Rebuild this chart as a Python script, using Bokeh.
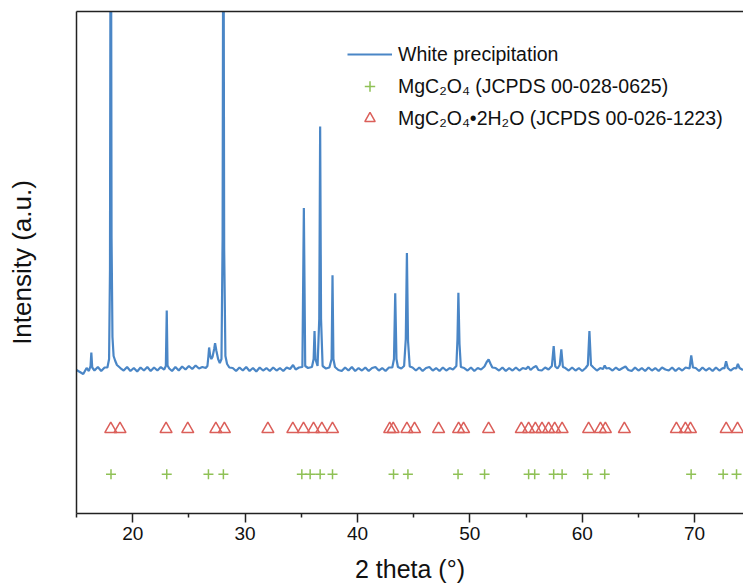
from bokeh.plotting import figure
from bokeh.models import Range1d, FixedTicker, LinearAxis, Legend, LegendItem
from bokeh.embed import file_html
from bokeh.resources import INLINE

# XRD trace of the white precipitate (2theta in degrees, intensity in a.u.)
pattern = [
    (15.0, 190), (15.3, 170), (15.6, 150), (15.9, 210), (16.1, 180), (16.25, 230),
    (16.32, 365), (16.4, 215), (16.6, 185), (16.9, 220), (17.2, 180), (17.5, 215),
    (17.75, 215), (17.9, 300), (17.98, 1200), (18.05, 6500), (18.12, 1500),
    (18.2, 520), (18.3, 330), (18.45, 280), (18.6, 240), (18.9, 210), (19.2, 185),
    (19.5, 220), (19.8, 180), (20.1, 210), (20.4, 175), (20.7, 215), (21.0, 185),
    (21.3, 220), (21.6, 180), (21.9, 215), (22.2, 185), (22.5, 220), (22.8, 195),
    (22.95, 230), (23.03, 785), (23.1, 235), (23.25, 205), (23.5, 180), (23.8, 220),
    (24.1, 185), (24.4, 225), (24.7, 195), (25.0, 230), (25.3, 200), (25.6, 235),
    (25.9, 205), (26.2, 220), (26.5, 210), (26.65, 230), (26.74, 330), (26.8, 415),
    (26.9, 330), (27.0, 300), (27.1, 320), (27.25, 400), (27.33, 458), (27.45, 380),
    (27.6, 300), (27.75, 260), (27.9, 300), (28.0, 1500), (28.07, 5800), (28.14, 1400),
    (28.25, 330), (28.4, 250), (28.6, 215), (28.9, 210), (29.2, 180), (29.5, 215),
    (29.8, 185), (30.1, 220), (30.4, 180), (30.7, 210), (31.0, 175), (31.3, 215),
    (31.6, 185), (31.9, 210), (32.2, 180), (32.5, 215), (32.8, 185), (33.1, 210),
    (33.4, 180), (33.7, 215), (34.0, 200), (34.27, 240), (34.5, 195), (34.8, 215),
    (35.1, 220), (35.23, 1808), (35.35, 230), (35.6, 210), (35.95, 220), (36.1, 300),
    (36.18, 580), (36.26, 300), (36.45, 230), (36.6, 700), (36.68, 2620), (36.76, 700),
    (36.9, 230), (37.2, 205), (37.5, 215), (37.7, 300), (37.78, 1135), (37.86, 300),
    (38.0, 220), (38.3, 190), (38.6, 180), (38.9, 215), (39.2, 185), (39.5, 220),
    (39.8, 180), (40.1, 210), (40.4, 185), (40.7, 215), (41.0, 180), (41.3, 210),
    (41.6, 220), (41.9, 185), (42.2, 210), (42.5, 180), (42.8, 215), (43.1, 215),
    (43.25, 300), (43.36, 955), (43.47, 300), (43.6, 220), (43.9, 205), (44.15, 230),
    (44.3, 500), (44.4, 1358), (44.5, 480), (44.65, 225), (44.9, 215), (45.2, 185),
    (45.5, 215), (45.8, 180), (46.1, 210), (46.4, 220), (46.7, 185), (47.0, 210),
    (47.3, 180), (47.6, 215), (47.9, 185), (48.2, 210), (48.5, 195), (48.8, 230),
    (48.9, 500), (48.98, 962), (49.08, 450), (49.2, 220), (49.5, 210), (49.8, 185),
    (50.1, 215), (50.4, 180), (50.7, 210), (51.0, 195), (51.3, 225), (51.5, 270),
    (51.67, 295), (51.85, 250), (52.0, 215), (52.3, 210), (52.6, 185), (52.9, 215),
    (53.2, 180), (53.5, 210), (53.8, 185), (54.1, 215), (54.4, 185), (54.7, 210),
    (55.0, 200), (55.2, 225), (55.4, 190), (55.65, 215), (55.9, 230), (56.1, 190),
    (56.4, 185), (56.7, 215), (57.0, 195), (57.3, 230), (57.46, 428), (57.6, 225),
    (57.8, 205), (58.0, 240), (58.14, 395), (58.28, 220), (58.5, 210), (58.8, 185),
    (59.1, 215), (59.4, 185), (59.7, 210), (60.0, 180), (60.3, 210), (60.5, 240),
    (60.64, 578), (60.78, 240), (61.0, 215), (61.3, 185), (61.6, 210), (61.85, 200),
    (62.0, 235), (62.15, 205), (62.4, 210), (62.7, 185), (63.0, 215), (63.3, 190),
    (63.6, 210), (63.85, 225), (64.1, 190), (64.4, 180), (64.7, 215), (65.0, 185),
    (65.3, 210), (65.6, 180), (65.9, 215), (66.2, 185), (66.5, 210), (66.8, 180),
    (67.1, 215), (67.4, 195), (67.7, 185), (68.0, 215), (68.3, 180), (68.6, 210),
    (68.9, 185), (69.2, 215), (69.55, 205), (69.7, 335), (69.85, 215), (70.1, 210),
    (70.4, 180), (70.7, 215), (71.0, 185), (71.3, 210), (71.6, 180), (71.9, 215),
    (72.2, 185), (72.5, 210), (72.65, 205), (72.8, 278), (72.95, 210), (73.2, 185),
    (73.5, 210), (73.7, 205), (73.85, 252), (74.0, 210), (74.3, 190),
]
two_theta = [p_[0] for p_ in pattern]
intensity = [p_[1] for p_ in pattern]

# Reference lines (2theta positions)
mgc2o4_2theta = [18.07, 23.03, 26.74, 28.07, 35.05, 35.79, 36.68, 37.78, 43.21,
                 44.49, 48.95, 51.31, 55.23, 55.77, 57.46, 58.21, 60.49, 62.0,
                 69.69, 72.54, 73.73]
dihydrate_2theta = [18.05, 18.87, 22.97, 24.90, 27.40, 28.16, 32.03, 34.25, 35.20,
                    36.09, 36.83, 37.78, 42.87, 43.18, 44.40, 45.08, 47.22, 49.00,
                    49.44, 51.67, 54.58, 55.23, 55.83, 56.42, 57.01, 57.55, 58.21,
                    60.57, 61.62, 62.06, 63.75, 68.38, 69.18, 69.63, 72.81, 73.82]
mgc2o4_level = -850
dihydrate_level = -400

x_major = [20, 30, 40, 50, 60, 70]
x_minor = [15, 25, 35, 45, 55, 65, 75]

labels = ["White precipitation",
          "MgC\u2082O\u2084 (JCPDS 00-028-0625)",
          "MgC\u2082O\u2084\u20222H\u2082O (JCPDS 00-026-1223)"]
x_title = "2 theta (\u00b0)"
y_title = "Intensity (a.u.)"

BLUE = "#4A86C6"
GREEN = "#8FC156"
RED = "#DB5F5A"
FONT = "Liberation Sans"

p = figure(width=743, height=588, output_backend="svg", toolbar_location=None,
           x_range=Range1d(15, 74.35), y_range=Range1d(-1242, 3768),
           min_border_left=76, min_border_right=0, min_border_top=11,
           min_border_bottom=75, outline_line_color=None)
p.xgrid.visible = False
p.ygrid.visible = False

r_line = p.line(two_theta, intensity, line_color=BLUE, line_width=2.2)
r_plus = p.scatter(mgc2o4_2theta, [mgc2o4_level] * len(mgc2o4_2theta), marker="cross",
                   size=10, line_color=GREEN, line_width=1.5)
r_tri = p.scatter(dihydrate_2theta, [dihydrate_level] * len(dihydrate_2theta),
                  marker="triangle", size=12, line_color=RED, fill_color=None,
                  line_width=1.5)

# x axis
xa = p.xaxis[0]
xa.ticker = FixedTicker(ticks=x_major, minor_ticks=x_minor)
xa.axis_label = x_title
xa.axis_label_text_font = FONT
xa.axis_label_text_font_style = "normal"
xa.axis_label_text_font_size = "25px"
xa.axis_label_text_color = "#111111"
xa.axis_label_standoff = 12
xa.major_label_text_font = FONT
xa.major_label_text_font_size = "19px"
xa.major_label_text_color = "#111111"
xa.major_label_standoff = 4
xa.major_tick_out = 9
xa.major_tick_in = 0
xa.minor_tick_out = 4
xa.minor_tick_in = 0
xa.axis_line_width = 1.5
xa.axis_line_color = "#222222"
xa.major_tick_line_width = 1.5
xa.minor_tick_line_width = 1.5
xa.major_tick_line_color = "#222222"
xa.minor_tick_line_color = "#222222"

# y axis
ya = p.yaxis[0]
ya.ticker = FixedTicker(ticks=[])
ya.axis_label = y_title
ya.axis_label_text_font = FONT
ya.axis_label_text_font_style = "normal"
ya.axis_label_text_font_size = "26px"
ya.axis_label_text_color = "#111111"
ya.axis_label_standoff = 40
ya.axis_line_width = 1.5
ya.axis_line_color = "#222222"
ya.major_tick_line_color = None
ya.minor_tick_line_color = None

# top frame line
top = LinearAxis(ticker=FixedTicker(ticks=[]), axis_line_width=1.5,
                 axis_line_color="#222222", major_tick_line_color=None,
                 minor_tick_line_color=None, major_label_text_font_size="0px")
p.add_layout(top, "above")

legend = Legend(items=[LegendItem(label=labels[0], renderers=[r_line]),
                       LegendItem(label=labels[1], renderers=[r_plus]),
                       LegendItem(label=labels[2], renderers=[r_tri])],
                location=(271, 382), border_line_color=None, background_fill_alpha=0,
                padding=0, margin=0, spacing=6, glyph_width=45, glyph_height=26,
                label_height=26, label_standoff=6, label_text_font=FONT,
                label_text_font_size="19.5px", label_text_color="#111111")
p.add_layout(legend, "center")

open("out.html", "w").write(file_html(p, INLINE))
